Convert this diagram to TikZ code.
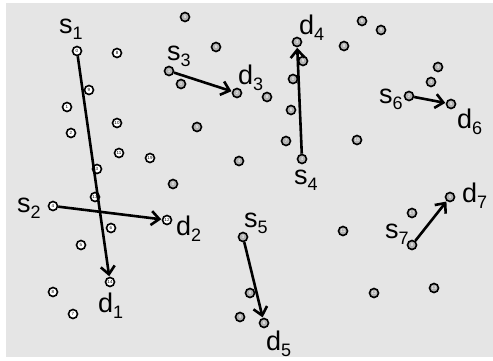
\documentclass[tikz,border=0pt]{standalone}
\usepackage{fontspec}
\setmainfont{Liberation Sans}
\usetikzlibrary{arrows.meta}
\newcommand{\lbl}[2]{\fontsize{27}{30}\selectfont #1\raisebox{-6pt}{\fontsize{18}{19}\selectfont #2}}
\begin{document}
\begin{tikzpicture}[x=1pt,y=-1pt,
  pt/.style={circle,draw=black,line width=1.6pt,fill=white,minimum size=9pt,inner sep=0pt,font=\fontsize{4.5}{4.5}\selectfont},
  gpt/.style={pt,fill=gray!60,text=white},
  lab/.style={anchor=base west,inner sep=0pt},
  flow/.style={line width=2.6pt,-{Straight Barb[length=8pt,width=14pt,line width=2.6pt]},shorten >=0.5pt}]
\useasboundingbox (0,0) rectangle (493,360);
\fill[gray!20] (6,3) rectangle (493,357);
% left cluster
\node[pt] (s1) at (77,51) {0};
\node[pt] (n8) at (117,53) {8};
\node[pt] (n9) at (89,90) {9};
\node[pt] (n1) at (67,107) {1};
\node[pt] (n10) at (117,123) {10};
\node[pt] (n2) at (71,133) {2};
\node[pt] (n11) at (119,153) {11};
\node[pt] (n19) at (150,158) {19};
\node[pt] (n3) at (97,169) {3};
\node[pt] (n13) at (95,197) {13};
\node[pt] (s2) at (53,206) {4};
\node[pt] (n6) at (111,228) {6};
\node[pt] (n5) at (81,245) {5};
\node[pt] (d1) at (110,282) {14};
\node[pt] (n18) at (53,292) {8};
\node[pt] (n7) at (73,314) {7};
\node[pt] (d2) at (167,220) {12};
% middle / right
\node[gpt] (m1) at (185,17) {5};
\node[gpt] (m2) at (216,47) {6};
\node[gpt] (s3) at (169,71) {1};
\node[gpt] (m3) at (181,84) {0};
\node[gpt] (d3) at (237,93) {2};
\node[gpt] (m4) at (267,97) {8};
\node[gpt] (d4) at (297,42) {3};
\node[gpt] (m5) at (303,61) {9};
\node[gpt] (m6) at (293,79) {0};
\node[gpt] (m7) at (291,110) {6};
\node[gpt] (m8) at (197,127) {5};
\node[gpt] (m9) at (286,141) {7};
\node[gpt] (s4) at (302,159) {4};
\node[gpt] (m10) at (239,161) {4};
\node[gpt] (m11) at (173,184) {0};
\node[gpt] (s5) at (243,237) {3};
\node[gpt] (m12) at (250,293) {8};
\node[gpt] (m13) at (240,317) {9};
\node[gpt] (d5) at (264,323) {6};
\node[gpt] (r1) at (362,21) {6};
\node[gpt] (r2) at (381,30) {9};
\node[gpt] (r3) at (344,46) {8};
\node[gpt] (r4) at (438,67) {3};
\node[gpt] (r5) at (431,82) {4};
\node[gpt] (s6) at (409,96) {2};
\node[gpt] (d6) at (451,104) {5};
\node[gpt] (r6) at (357,140) {10};
\node[gpt] (d7) at (450,197) {5};
\node[gpt] (r7) at (412,213) {17};
\node[gpt] (r8) at (343,231) {11};
\node[gpt] (s7) at (412,245) {8};
\node[gpt] (r9) at (374,293) {12};
\node[gpt] (r10) at (434,288) {13};
% labels
\node[lab] (ls1) at (59,33) {\lbl{s}{1}};
\node[lab] (ld1) at (98,312) {\lbl{d}{1}};
\node[lab] (ls2) at (17,212) {\lbl{s}{2}};
\node[lab] (ld2) at (176,235) {\lbl{d}{2}};
\node[lab] (ls3) at (167,60) {\lbl{s}{3}};
\node[lab] (ld3) at (238,84) {\lbl{d}{3}};
\node[lab] (ls4) at (294,184) {\lbl{s}{4}};
\node[lab] (ld4) at (299,34) {\lbl{d}{4}};
\node[lab] (ls5) at (244,227) {\lbl{s}{5}};
\node[lab] (ld5) at (266,350) {\lbl{d}{5}};
\node[lab] (ls6) at (379,103) {\lbl{s}{6}};
\node[lab] (ld6) at (457,128) {\lbl{d}{6}};
\node[lab] (ls7) at (385,238) {\lbl{s}{7}};
\node[lab] (ld7) at (462,202) {\lbl{d}{7}};
% flows
\draw[flow] (s1) -- (d1);
\draw[flow] (s2) -- (d2);
\draw[flow] (s3) -- (d3);
\draw[flow] (s4) -- (d4);
\draw[flow] (s5) -- (d5);
\draw[flow] (s6) -- (d6);
\draw[flow] (s7) -- (d7);
\end{tikzpicture}
\end{document}
